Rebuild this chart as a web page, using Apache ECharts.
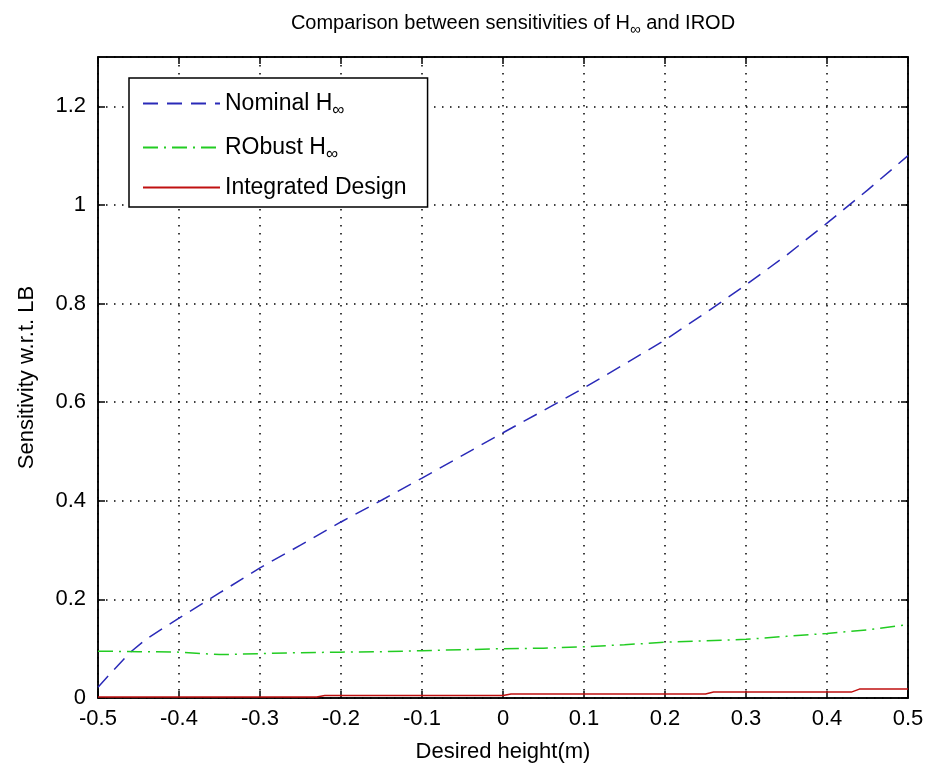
<!DOCTYPE html>
<html><head><meta charset="utf-8">
<script src="https://cdn.jsdelivr.net/npm/echarts@6/dist/echarts.min.js"></script>
<style>html,body{margin:0;padding:0;background:#fff}#c{width:930px;height:772px}</style>
</head><body><div id="c"></div>
<script>
const nominalX = [-0.5,-0.48,-0.46,-0.44,-0.4,-0.35,-0.3,-0.25,-0.2,-0.15,-0.1,-0.05,0,0.05,0.1,0.15,0.2,0.25,0.3,0.35,0.4,0.45,0.5];
const nominalY = [0.022,0.058,0.093,0.12,0.162,0.213,0.264,0.31,0.357,0.401,0.446,0.492,0.538,0.583,0.629,0.677,0.726,0.781,0.838,0.898,0.963,1.03,1.10];
const robustX = [-0.5,-0.45,-0.4,-0.35,-0.3,-0.25,-0.2,-0.15,-0.1,-0.05,0,0.05,0.1,0.15,0.2,0.25,0.3,0.35,0.4,0.45,0.5];
const robustY = [0.095,0.094,0.093,0.088,0.09,0.092,0.093,0.094,0.096,0.098,0.1,0.101,0.104,0.108,0.113,0.116,0.119,0.125,0.131,0.138,0.149];
const irodX = [-0.5,-0.23,-0.22,0,0.01,0.25,0.26,0.43,0.44,0.5];
const irodY = [0.002,0.002,0.005,0.005,0.008,0.008,0.012,0.012,0.018,0.018];
const xTicks = ['-0.5','-0.4','-0.3','-0.2','-0.1','0','0.1','0.2','0.3','0.4','0.5'];
const yTicks = ['0','0.2','0.4','0.6','0.8','1','1.2'];

const font = 'Liberation Sans, Arial, sans-serif';
const pair = (xs, ys) => xs.map((x, i) => [x, ys[i]]);
const fmtX = v => { const s = xTicks.find(t => Math.abs(parseFloat(t) - v) < 1e-6); return s === undefined ? '' : s; };
const fmtY = v => { const s = yTicks.find(t => Math.abs(parseFloat(t) - v) < 1e-6); return s === undefined ? '' : s; };
const sub = {
  n: {fontFamily: font, fontSize: 23, color: '#000', lineHeight: 28},
  s: {fontFamily: font, fontSize: 17, color: '#000', lineHeight: 28, padding: [14, 0, 0, 0]}
};
const dotted = {color: '#000', type: [1.5, 6.5], width: 1.5};
const axLine = {show: true, onZero: false, lineStyle: {color: '#000', width: 1.5}};
const axTick = {show: true, inside: true, length: 7, lineStyle: {color: '#000', width: 1.5}};
const chart = echarts.init(document.getElementById('c'));
chart.setOption({
  animation: false,
  backgroundColor: '#fff',
  title: {
    text: '{n|Comparison between sensitivities of H}{s|∞}{n| and IROD}',
    left: 508, textAlign: 'center', top: 5,
    textStyle: {fontWeight: 'normal', rich: {
      n: {fontFamily: font, fontSize: 20, color: '#000', fontWeight: 'normal'},
      s: {fontFamily: font, fontSize: 15, color: '#000', fontWeight: 'normal', padding: [12, 0, 0, 0]}
    }}
  },
  grid: {left: 98, right: 22, top: 57, bottom: 74, show: true, borderColor: '#000', borderWidth: 1.5, backgroundColor: '#fff'},
  legend: {
    left: 129, top: 78, orient: 'vertical',
    backgroundColor: '#fff', borderColor: '#000', borderWidth: 1.5,
    padding: [10, 21, 8, 13], itemGap: 13, itemWidth: 77, itemHeight: 14,
    itemStyle: {opacity: 0},
    textStyle: {fontFamily: font, fontSize: 23, color: '#000', rich: sub},
    formatter: function (name) {
      if (name === 'Nominal') return '{n|Nominal H}{s|∞}';
      if (name === 'Robust') return '{n|RObust H}{s|∞}';
      return '{n|Integrated Design}';
    },
    data: ['Nominal', 'Robust', 'Integrated']
  },
  xAxis: [{
    type: 'value', min: -0.5, max: 0.5, interval: 0.1,
    name: 'Desired height(m)', nameLocation: 'middle', nameGap: 43,
    nameTextStyle: {fontFamily: font, fontSize: 22, color: '#000'},
    axisLine: axLine, axisTick: axTick,
    axisLabel: {fontFamily: font, fontSize: 22, color: '#000', margin: 10, formatter: fmtX},
    splitLine: {show: true, lineStyle: dotted}
  }, {
    type: 'value', min: -0.5, max: 0.5, interval: 0.1, position: 'top',
    axisLine: axLine, axisTick: axTick,
    axisLabel: {show: false}, splitLine: {show: false}
  }],
  yAxis: [{
    type: 'value', min: 0, max: 1.3, interval: 0.2,
    name: 'Sensitivity w.r.t. LB', nameLocation: 'middle', nameGap: 60, nameRotate: 90,
    nameTextStyle: {fontFamily: font, fontSize: 22, color: '#000'},
    axisLine: axLine, axisTick: axTick,
    axisLabel: {fontFamily: font, fontSize: 22, color: '#000', margin: 12, formatter: fmtY, showMaxLabel: false},
    splitLine: {show: true, lineStyle: dotted}
  }, {
    type: 'value', min: 0, max: 1.3, interval: 0.2, position: 'right',
    axisLine: axLine, axisTick: axTick,
    axisLabel: {show: false}, splitLine: {show: false}
  }],
  series: [{
    name: 'Nominal', type: 'line', symbol: 'none', data: pair(nominalX, nominalY),
    lineStyle: {color: '#2a2ab8', width: 1.5, type: [15, 9]}, itemStyle: {color: '#2a2ab8'}
  }, {
    name: 'Robust', type: 'line', symbol: 'none', data: pair(robustX, robustY),
    lineStyle: {color: '#22cc22', width: 1.5, type: [15, 6, 2, 6]}, itemStyle: {color: '#22cc22'}
  }, {
    name: 'Integrated', type: 'line', symbol: 'none', data: pair(irodX, irodY),
    lineStyle: {color: '#c01010', width: 1.5}, itemStyle: {color: '#c01010'}
  }]
});
</script></body></html>
